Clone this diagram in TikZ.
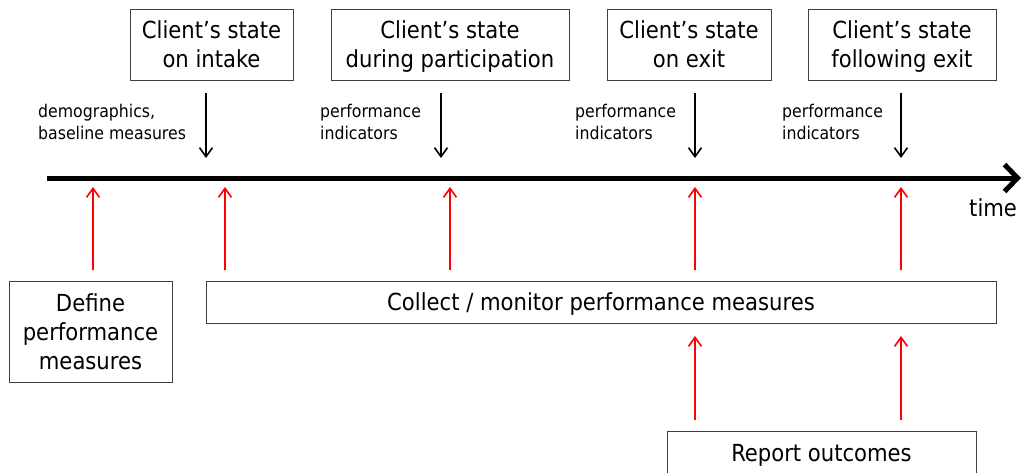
\documentclass[tikz,border=0pt]{standalone}
\usepackage{fontspec}
\setmainfont{DejaVu Sans Condensed}
\usetikzlibrary{arrows.meta}
% fixed line struts so every box sets its baselines alike
\newcommand\bigline{\rule[-6pt]{0pt}{29pt}}
\newcommand\smallline{\rule{0pt}{15pt}}
\begin{document}
\begin{tikzpicture}[x=1pt,y=-1pt,
  box/.style={draw=black!75, line width=1pt, align=center, inner sep=0pt,
    font=\fontsize{23.5}{29}\selectfont},
  big/.style={font=\fontsize{23.5}{29}\selectfont, inner sep=0pt},
  note/.style={align=left, anchor=north west, inner sep=0pt,
    font=\fontsize{17.5}{22}\selectfont},
  down/.style={line width=1.6pt, -{Straight Barb[length=9pt,width=13pt]}},
  feed/.style={red, line width=1.6pt, -{Straight Barb[length=9pt,width=13pt]}},
  axis/.style={line width=5pt, -{Straight Barb[length=13pt,width=27pt]}}
]
\useasboundingbox (0,0) rectangle (1023,472);
\clip (0,0) rectangle (1023,472);

% client states along the programme
\node[box, minimum width=163pt, minimum height=71pt] (intake) at (211.5,44.5) {\bigline Client’s state\\\bigline on intake};
\node[box, minimum width=238pt, minimum height=71pt] (during) at (450,44.5) {\bigline Client’s state\\\bigline during participation};
\node[box, minimum width=164pt, minimum height=71pt] (exit) at (689,44.5) {\bigline Client’s state\\\bigline on exit};
\node[box, minimum width=188pt, minimum height=71pt] (after) at (902,44.5) {\bigline Client’s state\\\bigline following exit};

% activities
\node[box, minimum width=163pt, minimum height=101pt] (define) at (90.5,331.5) {\bigline Define\\\bigline performance\\\bigline measures};
\node[box, minimum width=790pt, minimum height=42pt] (collect) at (601,302) {\bigline Collect / monitor performance measures};
\node[box, minimum width=309pt, minimum height=70pt] (report) at (821.5,466) {};
\node[big, anchor=base] (reporttxt) at (821.5,461.5) {Report outcomes};

% time axis
\coordinate (t0) at (47,178);
\coordinate (t1) at (1021,178);
\draw[axis] (t0) -- (t1);
\node[big, anchor=base west] (time) at (969,216) {time};

% data flowing from each state
\coordinate (d1a) at (206,93);  \coordinate (d1b) at (206,158);
\coordinate (d2a) at (441,93);  \coordinate (d2b) at (441,158);
\coordinate (d3a) at (695,93);  \coordinate (d3b) at (695,158);
\coordinate (d4a) at (901,93);  \coordinate (d4b) at (901,158);
\draw[down] (d1a) -- (d1b);
\draw[down] (d2a) -- (d2b);
\draw[down] (d3a) -- (d3b);
\draw[down] (d4a) -- (d4b);

\node[note] (n1) at (38,102) {\smallline demographics,\\baseline measures};
\node[note] (n2) at (320,102) {\smallline performance\\indicators};
\node[note] (n3) at (575,102) {\smallline performance\\indicators};
\node[note] (n4) at (782,102) {\smallline performance\\indicators};

% activities feeding the time line
\coordinate (r1a) at (93,270);  \coordinate (r1b) at (93,187);
\coordinate (r2a) at (225,270); \coordinate (r2b) at (225,187);
\coordinate (r3a) at (450,270); \coordinate (r3b) at (450,187);
\coordinate (r4a) at (695,270); \coordinate (r4b) at (695,187);
\coordinate (r5a) at (901,270); \coordinate (r5b) at (901,187);
\draw[feed] (r1a) -- (r1b);
\draw[feed] (r2a) -- (r2b);
\draw[feed] (r3a) -- (r3b);
\draw[feed] (r4a) -- (r4b);
\draw[feed] (r5a) -- (r5b);

% reporting draws on collected measures
\coordinate (s1a) at (695,420); \coordinate (s1b) at (695,336);
\coordinate (s2a) at (901,420); \coordinate (s2b) at (901,336);
\draw[feed] (s1a) -- (s1b);
\draw[feed] (s2a) -- (s2b);
\end{tikzpicture}
\end{document}
